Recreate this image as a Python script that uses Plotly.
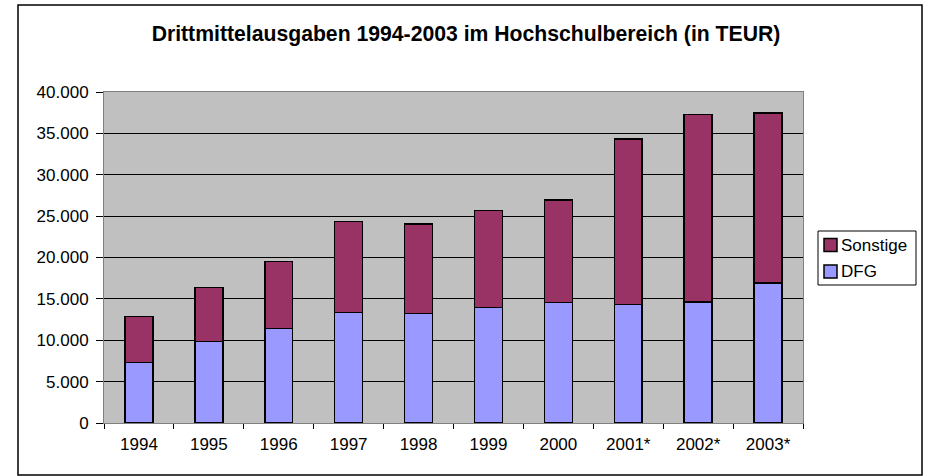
import plotly.graph_objects as go

years = ["1994", "1995", "1996", "1997", "1998", "1999", "2000", "2001*", "2002*", "2003*"]
dfg = [7300, 9850, 11400, 13350, 13250, 13950, 14550, 14300, 14650, 16900]
total = [12850, 16400, 19500, 24350, 24050, 25700, 26950, 34350, 37300, 37450]
sonstige = [t - d for t, d in zip(total, dfg)]

series_names = ["DFG", "Sonstige"]
series_colors = ["#9999FF", "#993366"]

FONT = "Liberation Sans, Arial, sans-serif"
W, H = 932, 476
L, R, T, B = 104, 129, 92, 53
pw, ph = W - L - R, H - T - B


def px_x(v):
    return (v - L) / pw


def px_y(v):
    return (H - B - v) / ph


fig = go.Figure()
for name, vals, col in zip(series_names, [dfg, sonstige], series_colors):
    fig.add_trace(go.Bar(x=years, y=vals, name=name, showlegend=False,
                         marker=dict(color=col, line=dict(color="black", width=1.5))))

# outer chart border
fig.add_shape(type="rect", xref="paper", yref="paper",
              x0=px_x(18), x1=px_x(922), y0=px_y(475), y1=px_y(5),
              line=dict(color="black", width=1.5), fillcolor="rgba(0,0,0,0)", layer="below")

# legend box (Excel style: Sonstige above DFG)
fig.add_shape(type="rect", xref="paper", yref="paper",
              x0=px_x(818), x1=px_x(916), y0=px_y(285), y1=px_y(231),
              line=dict(color="black", width=1), fillcolor="white", layer="above")
legend_rows = [("Sonstige", series_colors[1], 245), ("DFG", series_colors[0], 271.5)]
for label, col, cy in legend_rows:
    fig.add_shape(type="rect", xref="paper", yref="paper",
                  x0=px_x(824), x1=px_x(837), y0=px_y(cy + 6.5), y1=px_y(cy - 6.5),
                  line=dict(color="black", width=1.5), fillcolor=col, layer="above")
    fig.add_annotation(text=label, xref="paper", yref="paper", x=px_x(839), y=px_y(cy),
                       xanchor="left", yanchor="middle", showarrow=False,
                       font=dict(family=FONT, size=17, color="black"))

fig.update_layout(
    width=W, height=H,
    margin=dict(l=L, r=R, t=T, b=B),
    barmode="stack", bargap=0.6,
    paper_bgcolor="white", plot_bgcolor="#C0C0C0",
    separators=",.",
    font=dict(family=FONT, size=17, color="black"),
    title=dict(text="<b>Drittmittelausgaben 1994-2003 im Hochschulbereich (in TEUR)</b>",
               x=466 / W, xref="container", xanchor="center",
               y=1 - 34 / H, yref="container", yanchor="middle",
               font=dict(family=FONT, size=21.2, color="black")),
    showlegend=False,
)
fig.update_xaxes(showline=True, linecolor="#808080", linewidth=1, mirror=True,
                 ticks="outside", tickson="boundaries", ticklen=5, tickcolor="black",
                 showgrid=False, tickfont=dict(size=17), ticklabelstandoff=6)
fig.update_yaxes(range=[0, 40000], dtick=5000, tickformat=",d",
                 showline=True, linecolor="#808080", linewidth=1, mirror=True,
                 ticks="outside", ticklen=7, tickcolor="black",
                 showgrid=True, gridcolor="black", gridwidth=1,
                 zeroline=False, tickfont=dict(size=17), ticklabelstandoff=4)

fig.write_html("out.html", config={"displayModeBar": False},
               post_script="document.body.style.margin='0px';")
